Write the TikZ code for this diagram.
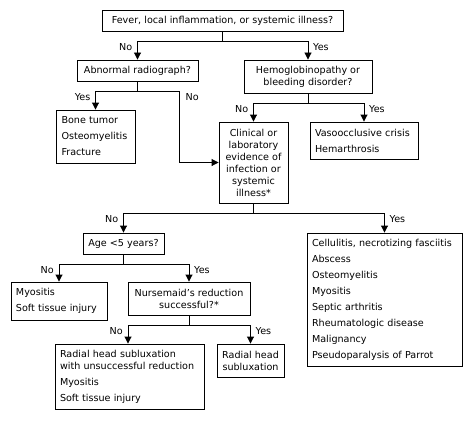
\documentclass[tikz,border=0pt]{standalone}
\usepackage{fontspec}
\setmainfont{DejaVu Sans}
\usetikzlibrary{arrows.meta,calc}
\begin{document}
\begin{tikzpicture}[x=1pt,y=-1pt,
  every node/.style={font=\fontsize{9.6}{12}\selectfont},
  box/.style={draw, line width=0.9pt, inner sep=0pt, align=center,
    execute at begin node={\hyphenpenalty=10000\exhyphenpenalty=10000\hbadness=10000\hfuzz=50pt}},
  lbox/.style={box, align=left},
  conn/.style={line width=0.9pt},
  arr/.style={conn, -{Triangle[width=7pt,length=7pt]}},
  lbl/.style={inner sep=0pt}]
\useasboundingbox (0,0) rectangle (473,420);
% nodes
\node[box, minimum width=241, minimum height=21] (q1) at (222.5,20.5) {Fever, local inflammation, or systemic illness?};
\node[box, minimum width=121, minimum height=21] (q2) at (137.5,70.5) {Abnormal radiograph?};
\node[box, minimum width=128, minimum height=33] (q3) at (308,76.5) {Hemoglobinopathy or\\bleeding disorder?};
\node[lbox, text width=68, minimum width=79, minimum height=53] (r1) at (95.5,136.5) {Bone~tumor\\[4pt]Osteomyelitis\\[4pt]Fracture};
\node[box, minimum width=69, minimum height=81] (q4) at (253.5,162.5) {Clinical or\\laboratory\\evidence of\\infection or\\systemic\\illness*};
\node[lbox, text width=98, minimum width=108, minimum height=37] (r2) at (364,140.5) {Vasoocclusive~crisis\\[4pt]Hemarthrosis};
\node[box, minimum width=81, minimum height=21] (q5) at (123.5,243.5) {Age <5 years?};
\node[lbox, text width=145, minimum width=155, minimum height=133] (r3) at (384.5,299.5) {Cellulitis,~necrotizing~fasciitis\\[4pt]Abscess\\[4pt]Osteomyelitis\\[4pt]Myositis\\[4pt]Septic~arthritis\\[4pt]Rheumatologic~disease\\[4pt]Malignancy\\[4pt]Pseudoparalysis~of~Parrot};
\node[lbox, text width=86, minimum width=96, minimum height=38] (r4) at (59,301) {Myositis\\[4pt]Soft~tissue~injury};
\node[box, minimum width=122, minimum height=33] (q6) at (189,298.5) {Nursemaid’s reduction\\successful?*};
\node[lbox, text width=139, minimum width=149, minimum height=65] (r5) at (129.5,376.5) {Radial~head~subluxation\\with~unsuccessful~reduction\\[4pt]Myositis\\[4pt]Soft~tissue~injury};
\node[box, minimum width=67, minimum height=33] (r6) at (250.5,360.5) {Radial head\\subluxation};
% connectors
\draw[conn] (q1.south) -- ++(0,10) coordinate (j1);
\draw[arr] (j1) -| (q2.north);
\draw[arr] (j1) -| (q3.north);
\node[lbl, anchor=east] at ($(j1 -| q2.north)+(-5,6)$) {No};
\node[lbl, anchor=west] at ($(j1 -| q3.north)+(5,6)$) {Yes};

\draw[conn] (q2.south) -- ++(0,10) coordinate (j2);
\draw[arr] (j2) -| (r1.north);
\draw[arr] (j2) -| ([xshift=-39pt]q4.west) -- (q4.west);
\node[lbl, anchor=east] at ($(j2 -| r1.north)+(-5,6)$) {Yes};
\node[lbl, anchor=west] at ($(j2)+(48,6)$) {No};

\draw[conn] (q3.south) -- ++(0,10) coordinate (j3);
\draw[arr] (j3) -| (q4.north);
\draw[arr] (j3) -| (r2.north);
\node[lbl, anchor=east] at ($(j3 -| q4.north)+(-5,6)$) {No};
\node[lbl, anchor=west] at ($(j3 -| r2.north)+(5,6)$) {Yes};

\draw[conn] (q4.south) -- ++(0,10) coordinate (j4);
\draw[arr] (j4) -| (q5.north);
\draw[arr] (j4) -| (r3.north);
\node[lbl, anchor=east] at ($(j4 -| q5.north)+(-5,6)$) {No};
\node[lbl, anchor=west] at ($(j4 -| r3.north)+(5,6)$) {Yes};

\draw[conn] (q5.south) -- ++(0,10) coordinate (j5);
\draw[arr] (j5) -| (r4.north);
\draw[arr] (j5) -| (q6.north);
\node[lbl, anchor=east] at ($(j5 -| r4.north)+(-5,6)$) {No};
\node[lbl, anchor=west] at ($(j5 -| q6.north)+(5,6)$) {Yes};

\draw[conn] (q6.south) -- ++(0,10) coordinate (j6);
\draw[arr] (j6) -| ([xshift=-1.5pt]r5.north);
\draw[arr] (j6) -| (r6.north);
\node[lbl, anchor=east] at ($(j6 -| r5.north)+(-6.5,6)$) {No};
\node[lbl, anchor=west] at ($(j6 -| r6.north)+(5,6)$) {Yes};
\end{tikzpicture}
\end{document}
